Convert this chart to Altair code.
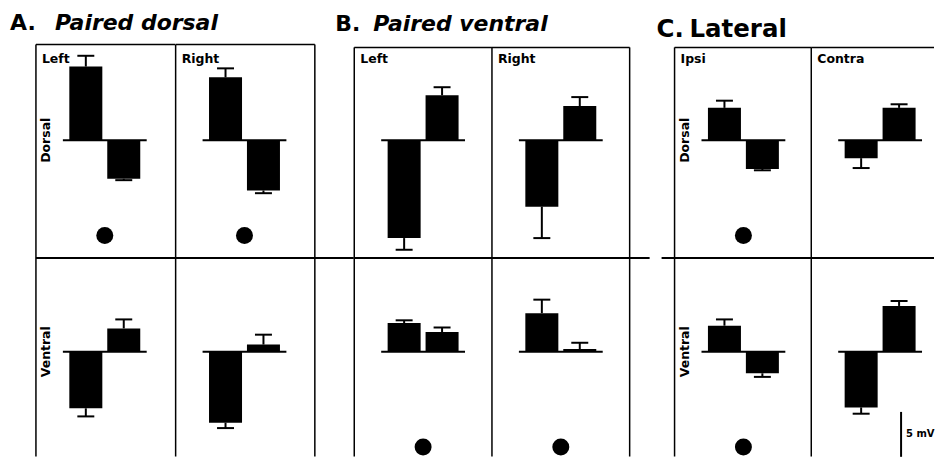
import altair as alt
import pandas as pd

# ---------------- values (mV) ----------------
GROUP_IDS = ["A", "B", "C"]
GROUP_LETTERS = ["A.", "B.", "C."]
GROUP_NAMES = ["Paired dorsal", "Paired ventral", "Lateral"]
GROUP_SIDES = [["Left", "Right"], ["Left", "Right"], ["Ipsi", "Contra"]]
ROWS = ["Dorsal", "Ventral"]
BARS = ["1", "2"]

# one entry per panel
PANEL_GROUP = ["A", "A", "A", "A", "B", "B", "B", "B", "C", "C", "C", "C"]
PANEL_ROW = ["Dorsal", "Dorsal", "Ventral", "Ventral",
             "Dorsal", "Dorsal", "Ventral", "Ventral",
             "Dorsal", "Dorsal", "Ventral", "Ventral"]
PANEL_SIDE = ["Left", "Right", "Left", "Right",
              "Left", "Right", "Left", "Right",
              "Ipsi", "Contra", "Ipsi", "Contra"]
BAR1_MEAN = [8.2, 7.0, -6.3, -7.9, -10.9, -7.4, 3.2, 4.3, 3.6, -2.0, 2.9, -6.2]
BAR1_SEM = [1.2, 1.0, 0.9, 0.6, 1.3, 3.5, 0.3, 1.5, 0.8, 1.1, 0.7, 0.7]
BAR2_MEAN = [-4.3, -5.6, 2.6, 0.8, 5.0, 3.8, 2.2, 0.3, -3.2, 3.6, -2.4, 5.1]
BAR2_SEM = [0.15, 0.3, 1.0, 1.1, 0.9, 1.0, 0.5, 0.7, 0.15, 0.4, 0.4, 0.55]
PANEL_DOT = [True, True, False, False, False, False, True, True, True, False, True, False]
DOT_LEVEL_MV = -10.6
SCALE_BAR_MV = 5
SCALE_BAR_TOP_MV = -6.7

records = []
for i in range(len(PANEL_GROUP)):
    for b, m, s in ((BARS[0], BAR1_MEAN[i], BAR1_SEM[i]), (BARS[1], BAR2_MEAN[i], BAR2_SEM[i])):
        records.append(dict(group=PANEL_GROUP[i], row=PANEL_ROW[i], side=PANEL_SIDE[i],
                            bar=b, value=m, sem=s, dot=PANEL_DOT[i]))
df = pd.DataFrame(records)
titles_df = pd.DataFrame({"group": GROUP_IDS, "letter": GROUP_LETTERS, "name": GROUP_NAMES})
scale_df = pd.DataFrame({"top": [SCALE_BAR_TOP_MV], "bottom": [SCALE_BAR_TOP_MV - SCALE_BAR_MV],
                         "label": [f"{SCALE_BAR_MV} mV"]})

# ---------------- layout / style ----------------
FONT = "DejaVu Sans"
PX_PER_MV = 9
ROW_H = {"Dorsal": 211, "Ventral": 199}
ROW_BASE = {"Dorsal": 93, "Ventral": 94}
CELL_W = {"A": [139.5, 139.5], "B": [138, 138], "C": [137, 123]}
GAP_AFTER = {"A": 39, "B": 45, "C": 0}
BAND_RANGE = 138
GSTYLE = {
    "A": dict(top=-3, right_border=True, letter_dx=-26, name_dx=19, title_y=-17, title_size=22,
              italic=True, ext_left=0, ext_right=39, row_labels=True),
    "B": dict(top=0, right_border=True, letter_dx=-19, name_dx=19, title_y=-16, title_size=22,
              italic=True, ext_left=0, ext_right=20, row_labels=False),
    "C": dict(top=0, right_border=False, letter_dx=-18, name_dx=15, title_y=-10, title_size=24.5,
              italic=False, ext_left=13, ext_right=0, row_labels=True),
}
BORDER_W = 1.5


def cell(gi, si, row):
    g = GROUP_IDS[gi]
    side = GROUP_SIDES[gi][si]
    st = GSTYLE[g]
    W = CELL_W[g][si]
    H = ROW_H[row]
    bp = ROW_BASE[row]
    ysc = alt.Scale(domain=[-(H - bp) / PX_PER_MV, bp / PX_PER_MV], nice=False, zero=False)
    xsc = alt.Scale(domain=BARS, range=[0, BAND_RANGE], paddingInner=0.13, paddingOuter=0.88)
    X = alt.X("bar:N", scale=xsc, axis=None)

    base = (alt.Chart(df)
            .transform_filter(f"datum.group == '{g}' && datum.side == '{side}' && datum.row == '{row}'")
            .transform_calculate(errend="datum.value + (datum.value < 0 ? -datum.sem : datum.sem)"))
    one = base.transform_filter(f"datum.bar == '{BARS[0]}'")
    cx = BAND_RANGE / 2

    layers = []
    layers.append(one.mark_rule(color="black", strokeWidth=2).encode(
        x=alt.value(cx - 42), x2=alt.value(cx + 42), y=alt.Y(datum=0, scale=ysc, axis=None)))
    layers.append(base.mark_bar(color="black").encode(
        x=X, y=alt.Y("value:Q", scale=ysc, axis=None), y2=alt.datum(0)))
    layers.append(base.mark_rule(color="black", strokeWidth=2).encode(
        x=X, y=alt.Y("value:Q", scale=ysc, axis=None), y2="errend:Q"))
    layers.append(base.mark_tick(color="black", size=17, thickness=2, orient="horizontal", opacity=1).encode(
        x=X, y=alt.Y("errend:Q", scale=ysc, axis=None)))

    top = st["top"] if row == "Dorsal" else 0
    layers.append(one.mark_rule(color="black", strokeWidth=BORDER_W).encode(
        x=alt.value(0), y=alt.value(top), y2=alt.value(H)))
    if si == 1 and st["right_border"]:
        layers.append(one.mark_rule(color="black", strokeWidth=BORDER_W).encode(
            x=alt.value(W), y=alt.value(top), y2=alt.value(H)))
    if row == "Dorsal":
        layers.append(one.mark_rule(color="black", strokeWidth=BORDER_W).encode(
            x=alt.value(0), x2=alt.value(W), y=alt.value(top)))
    else:
        x0 = -st["ext_left"] if si == 0 else 0
        x1 = W + st["ext_right"] if si == 1 else W
        layers.append(one.mark_rule(color="black", strokeWidth=2).encode(
            x=alt.value(x0), x2=alt.value(x1), y=alt.value(0)))

    if row == "Dorsal":
        layers.append(one.mark_text(align="left", baseline="alphabetic", font=FONT,
                                    fontWeight="bold", fontSize=12.5, color="black").encode(
            x=alt.value(6), y=alt.value(16), text="side:N"))
    if si == 0 and st["row_labels"]:
        layers.append(one.mark_text(align="center", baseline="middle", angle=270, font=FONT,
                                    fontWeight="bold", fontSize=12.5, color="black").encode(
            x=alt.value(10), y=alt.Y(datum=0, scale=ysc, axis=None), text="row:N"))
    layers.append(one.transform_filter("datum.dot").mark_point(
        shape="circle", filled=True, size=290, color="black", opacity=1).encode(
        x=alt.value(cx), y=alt.Y(datum=DOT_LEVEL_MV, scale=ysc, axis=None)))

    if row == "Dorsal" and si == 0:
        tsrc = alt.Chart(titles_df).transform_filter(f"datum.group == '{g}'")
        layers.append(tsrc.mark_text(align="left", baseline="alphabetic", font=FONT,
                                     fontWeight="bold", fontSize=st["title_size"], color="black").encode(
            x=alt.value(st["letter_dx"]), y=alt.value(st["title_y"]), text="letter:N"))
        layers.append(tsrc.mark_text(align="left", baseline="alphabetic", font=FONT,
                                     fontWeight="bold", fontSize=st["title_size"], color="black",
                                     fontStyle="italic" if st["italic"] else "normal").encode(
            x=alt.value(st["name_dx"]), y=alt.value(st["title_y"]), text="name:N"))

    if g == "C" and si == 1 and row == "Ventral":
        sc = alt.Chart(scale_df).transform_calculate(mid="(datum.top + datum.bottom) / 2")
        layers.append(sc.mark_rule(color="black", strokeWidth=2).encode(
            x=alt.value(90), y=alt.Y("top:Q", scale=ysc, axis=None), y2="bottom:Q"))
        layers.append(sc.mark_text(align="left", baseline="middle", font=FONT, fontWeight="bold",
                                   fontSize=10, color="black").encode(
            x=alt.value(95), y=alt.Y("mid:Q", scale=ysc, axis=None), text="label:N"))

    cell_w = W + (GAP_AFTER[g] if si == 1 else 0)
    return alt.layer(*layers).properties(width=cell_w, height=H)


cells = []
for row in ROWS:
    for gi in range(len(GROUP_IDS)):
        for si in range(2):
            cells.append(cell(gi, si, row))

chart = alt.concat(*cells, columns=6, spacing=0, bounds="flush").properties(
    padding={"left": 2, "top": 4, "right": 0, "bottom": 0},
    background="white",
).configure_view(strokeWidth=0)

chart.save("out.html", embed_options={"renderer": "svg", "actions": False})
